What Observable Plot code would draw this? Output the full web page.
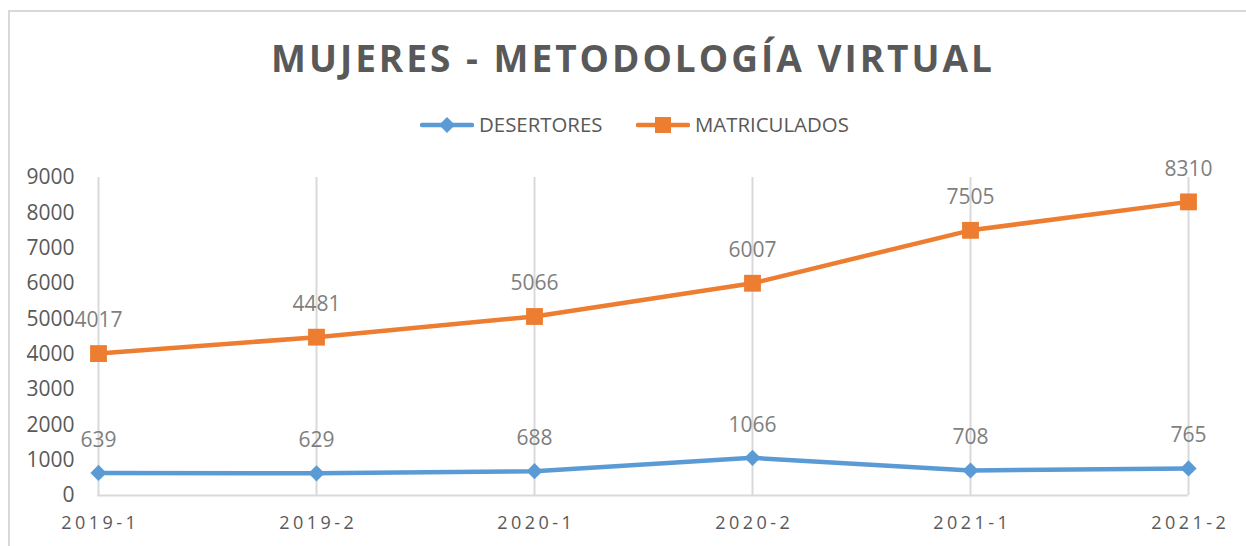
<!DOCTYPE html>
<html><head><meta charset="utf-8">
<script src="https://cdn.jsdelivr.net/npm/d3@7"></script>
<script src="https://cdn.jsdelivr.net/npm/@observablehq/plot@0.6"></script>
<style>
body{margin:0;background:#fff;font-family:"Open Sans",sans-serif;}
#wrap{position:relative;width:1246px;height:546px;overflow:hidden;background:#fff;}
#frame{position:absolute;left:8px;top:10px;width:1400px;height:700px;border-left:2px solid #d9d9d9;border-top:2px solid #d9d9d9;}
#title{position:absolute;left:0;width:1266px;top:39px;text-align:center;font-size:37px;line-height:37px;font-weight:700;color:#595959;letter-spacing:3px;white-space:nowrap;}
.leg{position:absolute;top:114px;font-size:20.4px;line-height:20px;color:#595959;white-space:nowrap;}
.sw{position:absolute;top:115px;}
#chart{position:absolute;left:0;top:150px;}
#chart g[aria-label="x-axis tick label"] text{letter-spacing:3.5px;}
</style></head>
<body><div id="wrap">
<div id="frame"></div>
<div id="title">MUJERES - METODOLOGÍA VIRTUAL</div>
<div id="legend"></div>
<div id="chart"></div>
</div>
<script>
const periodos = ["2019-1","2019-2","2020-1","2020-2","2021-1","2021-2"];
const desertores = [639, 629, 688, 1066, 708, 765];
const matriculados = [4017, 4481, 5066, 6007, 7505, 8310];
const yTicks = [0,1000,2000,3000,4000,5000,6000,7000,8000,9000];
const series = ["DESERTORES","MATRICULADOS"];
const colores = ["#5B9BD5","#ED7D31"];

const data = periodos.flatMap((p,i)=>[
  {periodo:p, serie:series[0], valor:desertores[i]},
  {periodo:p, serie:series[1], valor:matriculados[i]}
]);

// legend
const legend = document.getElementById("legend");
const legPos = [{sw:420, tx:479}, {sw:636, tx:695}];
series.forEach((s,i)=>{
  const sym = i===0
    ? `<path d="M27,2 L35,10 L27,18 L19,10 Z" fill="${colores[i]}"/>`
    : `<rect x="19" y="2" width="16" height="16" fill="${colores[i]}"/>`;
  legend.insertAdjacentHTML("beforeend",
    `<svg class="sw" style="left:${legPos[i].sw}px" width="54" height="20"><line x1="2" x2="52" y1="10" y2="10" stroke="${colores[i]}" stroke-width="4.5" stroke-linecap="round"/>${sym}</svg><div class="leg" style="left:${legPos[i].tx}px">${s}</div>`);
});

const chart = Plot.plot({
  width:1246, height:390,
  marginLeft:97, marginRight:58, marginTop:27, marginBottom:45,
  x:{type:"point", domain:periodos, padding:0, label:null},
  y:{domain:[0,9000], label:null},
  color:{domain:series, range:colores},
  style:{background:"transparent", fontFamily:"Open Sans", overflow:"visible"},
  marks:[
    Plot.ruleX(periodos, {x:d=>d, stroke:"#d9d9d9", strokeWidth:2}),
    Plot.ruleY([0], {stroke:"#d9d9d9", strokeWidth:2}),
    Plot.axisY({ticks:yTicks, tickFormat:d=>String(d), tickSize:0, tickPadding:23, fontSize:21, color:"#595959", label:null}),
    Plot.axisX({tickSize:0, tickPadding:21, fontSize:18, color:"#595959", label:null, dx:1.75}),
    Plot.line(data, {x:"periodo", y:"valor", z:"serie", stroke:"serie", strokeWidth:4.5}),
    Plot.dot(data.filter(d=>d.serie===series[0]), {x:"periodo", y:"valor", symbol:"diamond2", r:7.3, fill:colores[0], stroke:"none"}),
    Plot.dot(data.filter(d=>d.serie===series[1]), {x:"periodo", y:"valor", symbol:"square", r:9.5, fill:colores[1], stroke:"none"}),
    Plot.text(data, {x:"periodo", y:"valor", text:d=>String(d.valor), dy:-33, fontSize:21, fill:"#7f7f7f"})
  ]
});
document.getElementById("chart").appendChild(chart);
</script>
</body></html>
